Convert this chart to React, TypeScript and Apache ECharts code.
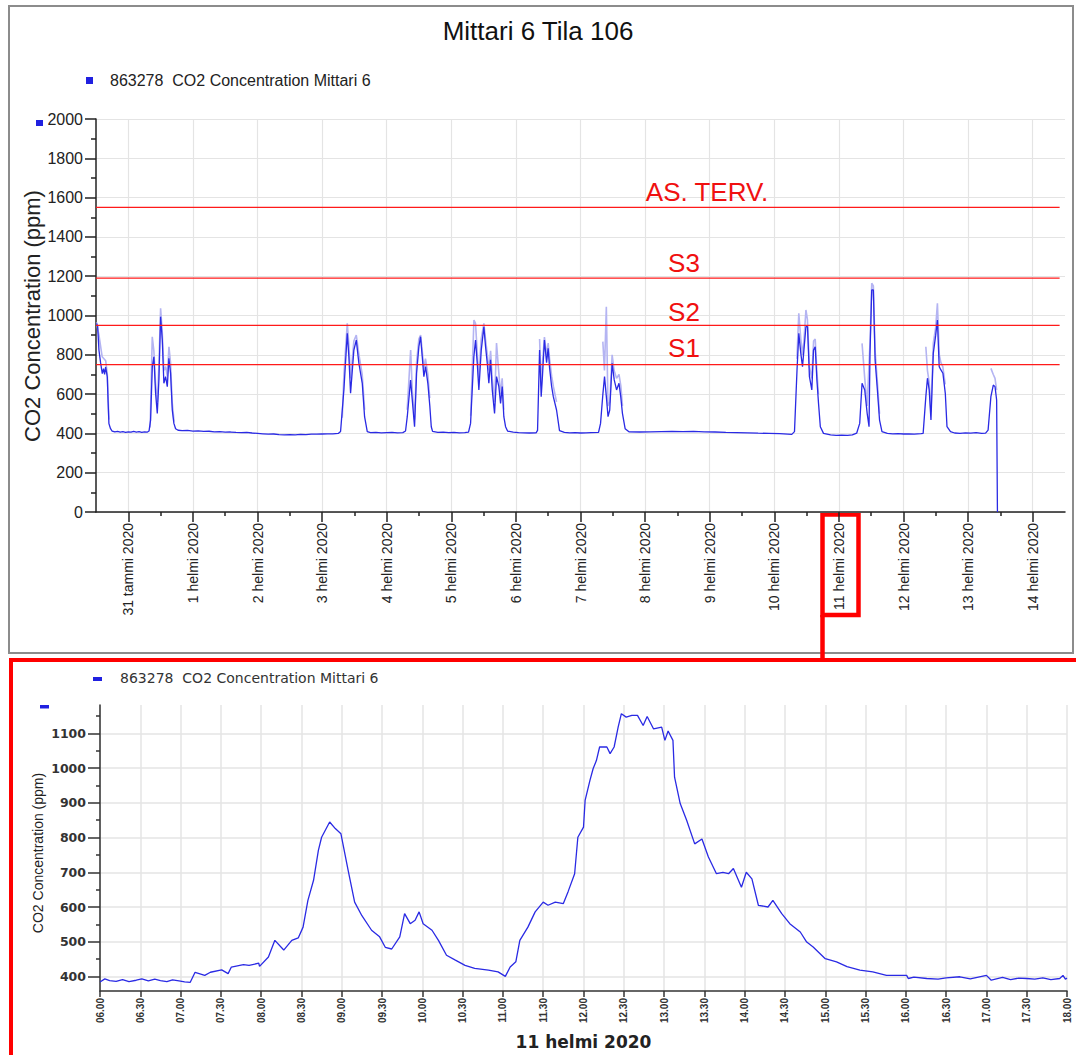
import React, { useEffect, useRef } from 'react';
import * as echarts from 'echarts';

// ---------- texts ----------
const TITLE = 'Mittari 6 Tila 106';
const SERIES_NAME = '863278  CO2 Concentration Mittari 6';
const Y_TITLE = 'CO2 Concentration (ppm)';
const BOTTOM_X_TITLE = '11 helmi 2020';

// ---------- top chart: x = hours from 31 tammi 2020 00:00 ----------
const TOP_X_MIN = -12;
const TOP_X_MAX = 348;
const TOP_DAY_TICKS = [0, 24, 48, 72, 96, 120, 144, 168, 192, 216, 240, 264, 288, 312, 336];
const TOP_DAY_LABELS = [
  '31 tammi 2020', '1 helmi 2020', '2 helmi 2020', '3 helmi 2020', '4 helmi 2020',
  '5 helmi 2020', '6 helmi 2020', '7 helmi 2020', '8 helmi 2020', '9 helmi 2020',
  '10 helmi 2020', '11 helmi 2020', '12 helmi 2020', '13 helmi 2020', '14 helmi 2020',
];
const TOP_HALF_DAY_TICKS = [12, 36, 60, 84, 108, 132, 156, 180, 204, 228, 252, 276, 300, 324];
const TOP_Y_MIN = 0;
const TOP_Y_MAX = 2000;
const TOP_Y_STEP = 200;

// thresholds (red lines)
const THRESHOLD_VALUES = [750, 950, 1190, 1550];
const THRESHOLD_LABELS = ['S1', 'S2', 'S3', 'AS. TERV.'];
const THRESHOLD_END = 346;

// main CO2 series (hours, ppm)
const TOP_DATA: [number, number][] = [
  [-11.8, 960], [-11.4, 945], [-10.9, 823], [-10.3, 760], [-9.66, 704], [-9.2, 730], [-8.8, 700], [-8.43, 738],
  [-7.8, 687], [-7.5, 560], [-7.2, 450], [-6.6, 424], [-6, 412], [-5, 408], [-4, 410], [-3, 406], [-2, 409],
  [-1, 405], [0, 408], [1, 406], [2, 410], [3, 407], [4, 409], [5, 405], [6, 408], [7, 406], [7.7, 412],
  [8.28, 468], [8.92, 740], [9.51, 790], [10.14, 604], [10.77, 502], [11.37, 672], [12.0, 994], [12.63, 875],
  [13.22, 655], [13.86, 689], [14.49, 638], [15.08, 782], [15.71, 706], [16.34, 519], [16.94, 451], [17.57, 424],
  [18.5, 416], [20, 414], [22, 415], [24, 412], [26, 413], [28, 410], [30, 411], [32, 408], [34, 409], [36, 406],
  [38, 407], [40, 405], [42, 404], [44, 405], [46, 402], [48, 400], [50, 398], [52, 396], [54, 397], [56, 394],
  [58, 393], [60, 394], [62, 393], [64, 395], [66, 394], [68, 396], [70, 396], [72, 397], [74, 398], [76, 398],
  [78, 400],
  [78.86, 410], [80.09, 621], [81.35, 909], [81.95, 790], [82.58, 604], [83.8, 824], [84.7, 875], [85.66, 757],
  [86.92, 655], [87.78, 485], [88.78, 409],
  [90, 404], [92, 405], [94, 403], [96, 404], [98, 405], [100, 403], [102, 404],
  [103.0, 412], [103.64, 485], [104.87, 672], [105.5, 570], [106.35, 434], [107.1, 706], [107.95, 841],
  [108.58, 892], [109.21, 790], [109.81, 689], [110.44, 740], [111.29, 655], [112.04, 536], [112.56, 434],
  [113.04, 410],
  [115, 405], [117, 406], [119, 404], [121, 405], [123, 403], [125, 404], [126.4, 406],
  [127.16, 451], [128.38, 790], [129.0, 875], [129.64, 757], [130.24, 621], [131.13, 824], [132.1, 943],
  [132.73, 841], [133.36, 757], [133.95, 655], [134.58, 774], [135.22, 621], [136.07, 502], [136.81, 689],
  [137.67, 638], [138.3, 553], [138.93, 638], [139.52, 485], [140.16, 434], [140.9, 412],
  [143, 406], [145, 404], [147, 403], [149, 402], [151.5, 403],
  [152.04, 415], [152.8, 824], [153.4, 587], [153.9, 700], [154.6, 875], [155.4, 760], [155.98, 833],
  [156.5, 735], [157.26, 640], [157.9, 587], [159.1, 519], [160.2, 414],
  [162, 405], [164, 403], [166, 404], [168, 402], [170, 403], [172, 404], [174.7, 405],
  [175.45, 451], [176.34, 604], [176.93, 689], [177.6, 587], [178.23, 485], [178.86, 519], [179.75, 757],
  [180.53, 672], [181.4, 621], [182.3, 655], [182.95, 587], [183.58, 502], [184.58, 424],
  [186, 408], [190, 407], [194, 408], [198, 409], [202, 410], [206, 409], [210, 410], [214, 408], [218, 407],
  [222, 405], [226, 404], [230, 403], [234, 401], [238, 400], [242, 399], [246.5, 395],
  [247.5, 409], [248.44, 723], [249.11, 909], [249.85, 807], [250.48, 740], [251.0, 824], [251.75, 943],
  [252.34, 943], [253.05, 689], [253.94, 621], [254.57, 824], [255.2, 841], [255.83, 672], [256.43, 553],
  [257.1, 434], [258.28, 400],
  [260.9, 392], [263, 390], [265, 391], [267.2, 390], [269, 392], [270.6, 401],
  [271.73, 451], [272.6, 655], [273.6, 621], [274.5, 502], [275.2, 434], [275.55, 807], [276.2, 1130],
  [276.8, 1130], [277.45, 774], [278.3, 621], [279.1, 468], [280.0, 409],
  [282, 400], [284, 398], [286, 399], [288, 397], [290, 398], [292, 396], [294.5, 399],
  [295.3, 400], [296.3, 587], [296.9, 681], [297.55, 621], [298.2, 468], [299.07, 807], [299.96, 900],
  [300.6, 977], [301.26, 740], [301.9, 723], [302.64, 706], [303.53, 604], [304.16, 434], [305.46, 409],
  [307, 402], [309, 400], [311, 403], [313, 401], [315, 404], [317, 400], [318.5, 401],
  [319.43, 417], [320.47, 587], [321.36, 646], [322.0, 638], [322.6, 570], [322.9, 0],
];

// lighter max envelope around the peaks (hours, ppm)
const TOP_MAX_SEGMENTS: [number, number][][] = [
  [[-11.8, 965], [-10.9, 900], [-9.7, 790], [-8.4, 770], [-7.8, 700], [-7.2, 470]],
  [[8.1, 430], [8.5, 650], [8.9, 892], [9.5, 820], [10.1, 660], [10.8, 560], [11.4, 760], [12.0, 1037],
   [12.6, 920], [13.2, 720], [13.9, 740], [14.5, 690], [15.1, 841], [15.7, 760], [16.3, 560], [17.0, 460]],
  [[79.5, 480], [80.1, 700], [81.35, 960], [81.95, 850], [82.6, 680], [83.8, 870], [84.7, 900], [85.7, 800],
   [86.9, 700], [87.8, 520]],
  [[103.6, 520], [104.9, 824], [105.5, 620], [106.35, 470], [107.1, 760], [107.95, 880], [108.6, 900],
   [109.2, 820], [109.8, 730], [110.4, 780], [111.3, 700], [112.0, 580]],
  [[127.2, 490], [128.4, 977], [129.0, 960], [129.6, 820], [130.2, 680], [131.1, 880], [132.1, 960],
   [132.7, 880], [133.4, 800], [133.95, 720], [134.6, 820], [135.2, 680], [136.1, 560], [136.8, 860],
   [137.7, 700], [138.3, 600], [138.9, 680], [139.5, 520]],
  [[152.8, 880], [153.4, 640], [153.9, 760], [154.6, 890], [155.4, 800], [156.0, 860], [156.5, 780],
   [157.3, 690], [157.9, 640], [159.1, 560]],
  [[176.3, 867], [176.9, 720], [177.6, 1045], [178.2, 540], [178.9, 560], [179.75, 800], [180.5, 720],
   [181.4, 680], [182.3, 700], [183.0, 640], [183.6, 540]],
  [[248.4, 780], [249.1, 1011], [249.85, 880], [250.5, 800], [251.0, 870], [251.75, 1028], [252.3, 980],
   [253.05, 740], [253.9, 680], [254.6, 870], [255.2, 880], [255.8, 720], [256.4, 600]],
  [[272.6, 858], [273.6, 680], [274.5, 540], [275.55, 860], [276.2, 1164], [276.8, 1150], [277.45, 820],
   [278.3, 660], [279.1, 500]],
  [[296.3, 841], [296.9, 720], [297.55, 660], [298.2, 510], [299.07, 860], [299.96, 940], [300.6, 1062],
   [301.3, 800], [301.9, 760], [302.6, 740], [303.5, 650]],
  [[320.47, 731], [321.36, 700], [322.0, 680], [322.6, 620]],
];

// ---------- bottom chart: x = hour of 11 helmi 2020 ----------
const BOTTOM_X_MIN = 6;
const BOTTOM_X_MAX = 18;
const BOTTOM_X_STEP = 0.5;
const BOTTOM_Y_MIN = 358;
const BOTTOM_Y_MAX = 1182;
const BOTTOM_Y_TICKS = [400, 500, 600, 700, 800, 900, 1000, 1100];
const BOTTOM_Y_MINOR_TICKS = [450, 550, 650, 750, 850, 950, 1050, 1150];

const BOTTOM_DATA: [number, number][] = [
  [6.0, 384], [6.06, 393], [6.12, 388], [6.2, 386], [6.28, 391], [6.36, 385], [6.45, 389], [6.52, 393],
  [6.6, 387], [6.68, 392], [6.75, 388], [6.83, 385], [6.9, 390], [6.98, 387], [7.05, 384], [7.12, 383],
  [7.18, 412], [7.3, 403], [7.37, 412], [7.51, 419], [7.59, 408], [7.63, 427], [7.78, 434], [7.85, 432],
  [7.97, 438], [7.98, 429], [8.09, 456], [8.17, 504], [8.28, 476], [8.38, 504], [8.46, 511], [8.52, 542],
  [8.58, 619], [8.65, 677], [8.71, 763], [8.75, 801], [8.85, 845], [8.92, 826], [8.99, 811], [9.08, 705],
  [9.16, 614], [9.25, 575], [9.37, 533], [9.47, 514], [9.54, 484], [9.62, 479], [9.72, 514], [9.78, 581],
  [9.85, 552], [9.91, 562], [9.96, 586], [10.01, 552], [10.12, 533], [10.2, 504], [10.3, 461], [10.41, 447],
  [10.53, 432], [10.65, 423], [10.82, 418], [10.94, 413], [11.03, 400], [11.09, 427], [11.16, 442],
  [11.21, 504], [11.31, 542], [11.4, 586], [11.5, 614], [11.56, 605], [11.65, 614], [11.75, 610],
  [11.81, 645], [11.89, 696], [11.93, 801], [12.0, 830], [12.02, 907], [12.08, 965], [12.12, 999],
  [12.16, 1022], [12.2, 1061], [12.29, 1061], [12.33, 1042], [12.38, 1061], [12.43, 1118], [12.47, 1157],
  [12.53, 1147], [12.6, 1152], [12.67, 1152], [12.74, 1123], [12.79, 1149], [12.87, 1113], [12.97, 1118],
  [13.01, 1080], [13.05, 1107], [13.11, 1080], [13.13, 974], [13.2, 898], [13.28, 850], [13.38, 782],
  [13.47, 796], [13.55, 744], [13.65, 696], [13.73, 700], [13.8, 696], [13.86, 711], [13.96, 657],
  [14.02, 700], [14.09, 681], [14.17, 605], [14.29, 600], [14.35, 619], [14.46, 581], [14.56, 552],
  [14.69, 528], [14.77, 499], [14.85, 485], [15.0, 451], [15.14, 442], [15.27, 428], [15.43, 418],
  [15.59, 413], [15.76, 403], [16.01, 403], [16.03, 394], [16.1, 398], [16.26, 394], [16.4, 392],
  [16.5, 396], [16.67, 399], [16.8, 393], [17.0, 403], [17.06, 389], [17.2, 397], [17.3, 391], [17.4, 395],
  [17.5, 394], [17.6, 392], [17.7, 396], [17.8, 391], [17.91, 394], [17.95, 403], [17.98, 392], [18.0, 395],
];

const LINE_BLUE = '#2a2ae4';
const LIGHT_BLUE = '#b4b4f2';
const RED = '#ff1a1a';
const AXIS = '#222222';
const GRID = '#e4e4e4';

function pad2(n: number) {
  return n < 10 ? '0' + n : String(n);
}

export default function App() {
  const ref = useRef<HTMLDivElement>(null);

  useEffect(() => {
    if (!ref.current) return;
    const chart = echarts.init(ref.current, undefined, { renderer: 'svg' });

    const envelopeData: any[] = [];
    TOP_MAX_SEGMENTS.forEach((seg, i) => {
      if (i > 0) envelopeData.push([seg[0][0] - 0.05, '-']);
      seg.forEach((p) => envelopeData.push(p));
    });

    const thresholdSeries = THRESHOLD_VALUES.map((v, i) => ({
      name: THRESHOLD_LABELS[i],
      type: 'line',
      xAxisIndex: 0,
      yAxisIndex: 0,
      data: [[TOP_X_MIN, v], [THRESHOLD_END, v]],
      showSymbol: false,
      silent: true,
      lineStyle: { color: RED, width: 1.2 },
      z: 5,
    }));

    const thresholdLabelPos = [
      { x: 684, y: 348 },
      { x: 684, y: 312 },
      { x: 684, y: 263 },
      { x: 707, y: 192 },
    ];

    const plain = (v: number) => String(v);

    const option: any = {
      animation: false,
      backgroundColor: '#ffffff',
      textStyle: { fontFamily: 'Liberation Sans, Arial, sans-serif' },
      title: {
        text: TITLE,
        left: 'center',
        top: 13,
        textStyle: { fontSize: 26, fontWeight: 'normal', color: '#111', fontFamily: 'Liberation Sans' },
      },
      grid: [
        { left: 96, top: 119, width: 969, height: 393 },
        { left: 100, top: 705, width: 967, height: 286 },
      ],
      xAxis: [
        {
          gridIndex: 0,
          type: 'value',
          min: TOP_X_MIN,
          max: TOP_X_MAX,
          axisLine: { onZero: false, lineStyle: { color: AXIS, width: 1.5 } },
          axisTick: { customValues: TOP_DAY_TICKS, length: 10, lineStyle: { color: AXIS, width: 1.5 } },
          axisLabel: {
            customValues: TOP_DAY_TICKS,
            rotate: 90,
            margin: 11,
            fontSize: 14,
            color: AXIS,
            formatter: (v: number) => TOP_DAY_LABELS[Math.round(v / 24)] ?? '',
          },
          splitLine: { show: true, lineStyle: { color: GRID, width: 1.2 } },
        },
        {
          gridIndex: 0,
          type: 'value',
          position: 'bottom',
          min: TOP_X_MIN,
          max: TOP_X_MAX,
          axisLine: { show: false, onZero: false },
          axisTick: { customValues: TOP_HALF_DAY_TICKS, length: 4, lineStyle: { color: AXIS, width: 1.5 } },
          axisLabel: { show: false },
          splitLine: { show: false },
        },
        {
          gridIndex: 1,
          type: 'value',
          min: BOTTOM_X_MIN,
          max: BOTTOM_X_MAX,
          interval: BOTTOM_X_STEP,
          axisLine: { onZero: false, lineStyle: { color: '#333', width: 1.5 } },
          axisTick: { length: 6, lineStyle: { color: '#333', width: 1.5 } },
          axisLabel: {
            rotate: 90,
            margin: 7,
            fontSize: 10,
            fontWeight: 'bold',
            color: '#333',
            formatter: (v: number) => pad2(Math.floor(v)) + '.' + (v % 1 ? '30' : '00'),
          },
          splitLine: { show: true, lineStyle: { color: GRID, width: 1.5 } },
          name: BOTTOM_X_TITLE,
          nameLocation: 'middle',
          nameGap: 42,
          nameTextStyle: { fontSize: 17, fontWeight: 'bold', color: '#222', fontFamily: 'DejaVu Sans' },
        },
      ],
      yAxis: [
        {
          gridIndex: 0,
          type: 'value',
          min: TOP_Y_MIN,
          max: TOP_Y_MAX,
          interval: TOP_Y_STEP,
          axisLine: { show: true, onZero: false, lineStyle: { color: AXIS, width: 1.5 } },
          axisTick: { show: true, length: 11, lineStyle: { color: AXIS, width: 1.5 } },
          minorTick: { show: true, splitNumber: 2, length: 5, lineStyle: { color: AXIS, width: 1.5 } },
          axisLabel: { fontSize: 16, color: AXIS, margin: 13, formatter: plain },
          splitLine: { show: true, lineStyle: { color: GRID, width: 1.2 } },
        },
        {
          gridIndex: 1,
          type: 'value',
          min: BOTTOM_Y_MIN,
          max: BOTTOM_Y_MAX,
          axisLine: { show: true, onZero: false, lineStyle: { color: '#333', width: 1.5 } },
          axisTick: { show: true, customValues: BOTTOM_Y_TICKS, length: 12, lineStyle: { color: '#333', width: 1.5 } },
          axisLabel: {
            customValues: BOTTOM_Y_TICKS,
            fontSize: 12.5,
            fontWeight: 'bold',
            color: '#333',
            margin: 14,
            fontFamily: 'DejaVu Sans',
            formatter: plain,
          },
          splitLine: { show: true, lineStyle: { color: GRID, width: 1.5 } },
        },
        {
          gridIndex: 1,
          type: 'value',
          position: 'left',
          min: BOTTOM_Y_MIN,
          max: BOTTOM_Y_MAX,
          axisLine: { show: false, onZero: false },
          axisTick: { show: true, customValues: BOTTOM_Y_MINOR_TICKS, length: 4, lineStyle: { color: '#333', width: 1.5 } },
          axisLabel: { show: false },
          splitLine: { show: false },
        },
      ],
      series: [
        {
          name: 'max',
          type: 'line',
          xAxisIndex: 0,
          yAxisIndex: 0,
          data: envelopeData,
          showSymbol: false,
          silent: true,
          connectNulls: false,
          lineStyle: { color: LIGHT_BLUE, width: 1.6 },
          z: 2,
        },
        {
          name: SERIES_NAME,
          type: 'line',
          xAxisIndex: 0,
          yAxisIndex: 0,
          data: TOP_DATA,
          showSymbol: false,
          lineStyle: { color: LINE_BLUE, width: 1.3 },
          z: 3,
        },
        ...thresholdSeries,
        {
          name: SERIES_NAME,
          type: 'line',
          xAxisIndex: 2,
          yAxisIndex: 1,
          data: BOTTOM_DATA,
          showSymbol: false,
          lineStyle: { color: LINE_BLUE, width: 1.3 },
          z: 3,
        },
      ],
      graphic: [
        // panel frames
        { type: 'rect', silent: true, shape: { x: 9, y: 6, width: 1064, height: 647 }, style: { fill: 'transparent', stroke: '#8c8c8c', lineWidth: 2 } },
        { type: 'rect', silent: true, shape: { x: 11, y: 660, width: 1090, height: 420 }, style: { fill: 'transparent', stroke: '#ff0000', lineWidth: 4 } },
        { type: 'rect', silent: true, shape: { x: 822.5, y: 514.5, width: 36, height: 100.5 }, style: { fill: 'transparent', stroke: '#ff0000', lineWidth: 4.5 } },
        { type: 'line', silent: true, shape: { x1: 822.5, y1: 615, x2: 822.5, y2: 660 }, style: { stroke: '#ff0000', lineWidth: 4.5 } },
        // legends
        { type: 'rect', silent: true, shape: { x: 86, y: 77, width: 7, height: 7 }, style: { fill: '#2020e0' } },
        { type: 'text', silent: true, x: 110, y: 80, style: { text: SERIES_NAME, fontSize: 16, fontFamily: 'Liberation Sans', fill: '#222', verticalAlign: 'middle' } },
        { type: 'rect', silent: true, shape: { x: 36, y: 120, width: 7, height: 6 }, style: { fill: '#2020e0' } },
        { type: 'rect', silent: true, shape: { x: 93, y: 677, width: 9, height: 4 }, style: { fill: '#2020e0' } },
        { type: 'text', silent: true, x: 120, y: 678, style: { text: SERIES_NAME, fontSize: 14, fontFamily: 'DejaVu Sans', fill: '#333', verticalAlign: 'middle' } },
        { type: 'rect', silent: true, shape: { x: 40, y: 705, width: 9, height: 3.5 }, style: { fill: '#2020e0' } },
        // axis titles
        { type: 'text', silent: true, x: 32, y: 316, rotation: Math.PI / 2, style: { text: Y_TITLE, fontSize: 22, fontFamily: 'Liberation Sans', fill: '#222', align: 'center', verticalAlign: 'middle' } },
        { type: 'text', silent: true, x: 38, y: 853, rotation: Math.PI / 2, style: { text: Y_TITLE, fontSize: 14, fontFamily: 'Liberation Sans', fill: '#222', align: 'center', verticalAlign: 'middle' } },
        // threshold labels
        ...THRESHOLD_LABELS.map((t, i) => ({
          type: 'text',
          silent: true,
          z: 10,
          x: thresholdLabelPos[i].x,
          y: thresholdLabelPos[i].y,
          style: { text: t, fontSize: 26, fontFamily: 'Liberation Sans', fill: '#f01010', align: 'center', verticalAlign: 'middle' },
        })),
      ],
    };

    chart.setOption(option);
    return () => chart.dispose();
  }, []);

  return (
    <div
      ref={ref}
      style={{ position: 'fixed', left: 0, top: 0, width: 1076, height: 1055, background: '#fff' }}
    />
  );
}
